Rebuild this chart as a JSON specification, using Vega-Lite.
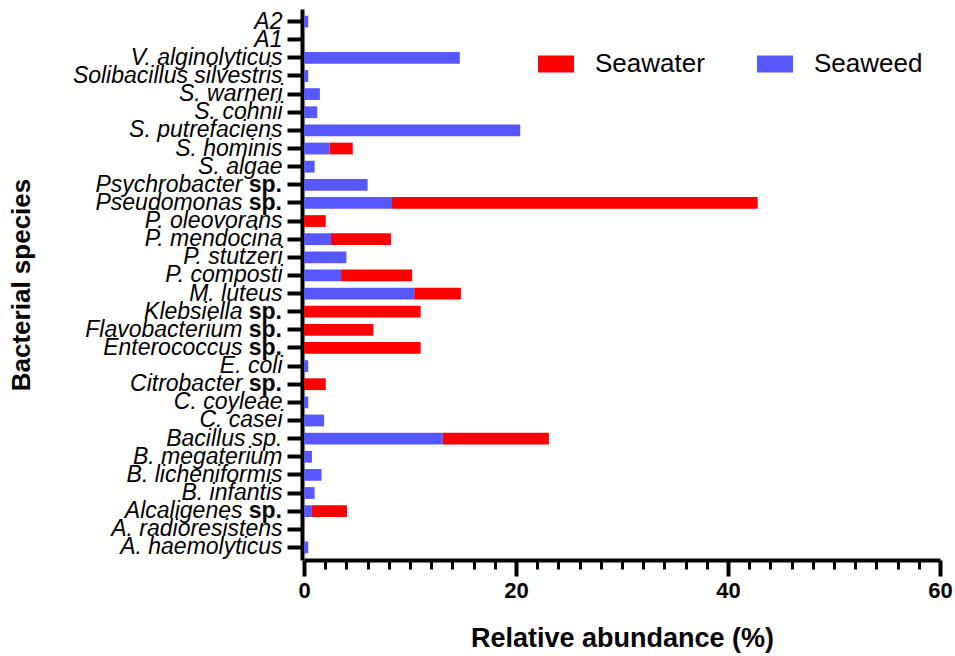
{
  "$schema": "https://vega.github.io/schema/vega-lite/v6.json",
  "autosize": "none",
  "padding": {"left": 304, "top": 9, "right": 15, "bottom": 96},
  "width": 636,
  "height": 551,
  "config": {"view": {"stroke": null}, "font": "Liberation Sans"},
  "data": {"values": [
    {"species": "A2", "source": "Seaweed", "value": 0.4},
    {"species": "A1", "source": "Seaweed", "value": 0},
    {"species": "V. alginolyticus", "source": "Seaweed", "value": 14.7},
    {"species": "Solibacillus silvestris", "source": "Seaweed", "value": 0.4},
    {"species": "S. warneri", "source": "Seaweed", "value": 1.5},
    {"species": "S. cohnii", "source": "Seaweed", "value": 1.25},
    {"species": "S. putrefaciens", "source": "Seaweed", "value": 20.4},
    {"species": "S. hominis", "source": "Seaweed", "value": 2.4},
    {"species": "S. hominis", "source": "Seawater", "value": 2.2},
    {"species": "S. algae", "source": "Seaweed", "value": 1.0},
    {"species": "Psychrobacter sp.", "source": "Seaweed", "value": 6.0},
    {"species": "Psychrobacter sp.", "source": "Seawater", "value": 0},
    {"species": "Pseudomonas sp.", "source": "Seaweed", "value": 8.3},
    {"species": "Pseudomonas sp.", "source": "Seawater", "value": 34.5},
    {"species": "P. oleovorans", "source": "Seawater", "value": 2.05},
    {"species": "P. mendocina", "source": "Seaweed", "value": 2.55},
    {"species": "P. mendocina", "source": "Seawater", "value": 5.65},
    {"species": "P. stutzeri", "source": "Seaweed", "value": 4.0},
    {"species": "P. composti", "source": "Seaweed", "value": 3.5},
    {"species": "P. composti", "source": "Seawater", "value": 6.7},
    {"species": "M. luteus", "source": "Seaweed", "value": 10.4},
    {"species": "M. luteus", "source": "Seawater", "value": 4.4},
    {"species": "Klebsiella sp.", "source": "Seawater", "value": 11.0},
    {"species": "Flavobacterium sp.", "source": "Seawater", "value": 6.55},
    {"species": "Enterococcus sp.", "source": "Seawater", "value": 11.0},
    {"species": "E. coli", "source": "Seaweed", "value": 0.4},
    {"species": "Citrobacter sp.", "source": "Seawater", "value": 2.05},
    {"species": "C. coyleae", "source": "Seaweed", "value": 0.4},
    {"species": "C. casei", "source": "Seaweed", "value": 1.9},
    {"species": "Bacillus sp.", "source": "Seaweed", "value": 13.1},
    {"species": "Bacillus sp.", "source": "Seawater", "value": 10.0},
    {"species": "B. megaterium", "source": "Seaweed", "value": 0.75},
    {"species": "B. licheniformis", "source": "Seaweed", "value": 1.65},
    {"species": "B. infantis", "source": "Seaweed", "value": 1.0},
    {"species": "Alcaligenes sp.", "source": "Seaweed", "value": 0.75},
    {"species": "Alcaligenes sp.", "source": "Seawater", "value": 3.3},
    {"species": "A. radioresistens", "source": "Seaweed", "value": 0},
    {"species": "A. haemolyticus", "source": "Seaweed", "value": 0.4}
  ]},
  "encoding": {
    "y": {
      "field": "species",
      "type": "nominal",
      "sort": ["A2", "A1", "V. alginolyticus", "Solibacillus silvestris", "S. warneri", "S. cohnii", "S. putrefaciens", "S. hominis", "S. algae", "Psychrobacter sp.", "Pseudomonas sp.", "P. oleovorans", "P. mendocina", "P. stutzeri", "P. composti", "M. luteus", "Klebsiella sp.", "Flavobacterium sp.", "Enterococcus sp.", "E. coli", "Citrobacter sp.", "C. coyleae", "C. casei", "Bacillus sp.", "B. megaterium", "B. licheniformis", "B. infantis", "Alcaligenes sp.", "A. radioresistens", "A. haemolyticus"],
      "scale": {"paddingInner": 0.35, "paddingOuter": 0.37},
      "axis": {
        "title": "Bacterial species",
        "titleFont": "Liberation Sans",
        "titleFontSize": 26,
        "titleFontWeight": "bold",
        "titleColor": "black",
        "titleX": -273,
        "titleY": 275.5,
        "titleBaseline": "alphabetic",
        "titleAngle": -90,
        "titleAlign": "center",
        "offset": 2,
        "domainColor": "black",
        "domainWidth": 4,
        "tickColor": "black",
        "tickWidth": 4,
        "tickSize": 15,
        "labelFont": "Liberation Sans",
        "labelFontSize": 23,
        "labelFontStyle": "italic",
        "labelColor": "black",
        "labelLimit": 400,
        "labelExpr": "indexof(['Psychrobacter sp.','Pseudomonas sp.','Klebsiella sp.','Flavobacterium sp.','Enterococcus sp.','Citrobacter sp.','Alcaligenes sp.'], datum.value) >= 0 ? replace(datum.value, ' sp.', '') : datum.label",
        "labelPadding": {"condition": {"test": "indexof(['Psychrobacter sp.','Pseudomonas sp.','Klebsiella sp.','Flavobacterium sp.','Enterococcus sp.','Citrobacter sp.','Alcaligenes sp.'], datum.value) >= 0", "value": 45}, "value": 5},
        "grid": false
      }
    }
  },
  "layer": [
    {
      "mark": {"type": "bar"},
      "encoding": {
        "x": {
          "field": "value",
          "type": "quantitative",
          "stack": "zero",
          "scale": {"domain": [0, 60], "nice": false},
          "axis": {
            "orient": "bottom",
            "values": [0, 20, 40, 60],
            "tickSize": 16,
            "tickWidth": 4,
            "tickColor": "black",
            "domainColor": "black",
            "domainWidth": 4,
            "labelFont": "Liberation Sans",
            "labelFontWeight": "bold",
            "labelFontSize": 22,
            "labelColor": "black",
            "labelPadding": 4,
            "labelFlush": false,
            "grid": false,
            "title": "Relative abundance (%)",
            "titleFont": "Liberation Sans",
            "titleFontSize": 27,
            "titleFontWeight": "bold",
            "titleColor": "black",
            "titleY": 86,
            "titleBaseline": "alphabetic"
          }
        },
        "color": {
          "field": "source",
          "type": "nominal",
          "scale": {"domain": ["Seawater", "Seaweed"], "range": ["#FF0000", "#5757FF"]},
          "legend": {
            "title": null,
            "orient": "none",
            "legendX": 234,
            "legendY": 37,
            "direction": "horizontal",
            "symbolType": "M-1,-0.47H1V0.47H-1Z",
            "symbolSize": 1296,
            "symbolStrokeWidth": 0,
            "symbolOpacity": 1,
            "labelFont": "Liberation Sans",
            "labelFontSize": 26,
            "labelColor": "black",
            "labelOffset": 21,
            "columnPadding": 52,
            "padding": 0
          }
        },
        "order": {"field": "source", "sort": "descending"}
      }
    },
    {
      "transform": [
        {"filter": {"and": [
          {"field": "species", "oneOf": ["Psychrobacter sp.", "Pseudomonas sp.", "Klebsiella sp.", "Flavobacterium sp.", "Enterococcus sp.", "Citrobacter sp.", "Alcaligenes sp."]},
          {"field": "source", "equal": "Seawater"}
        ]}}
      ],
      "mark": {"type": "text", "text": "sp.", "align": "right", "baseline": "middle", "dx": -22, "font": "Liberation Sans", "fontWeight": "bold", "fontSize": 23, "color": "black"},
      "encoding": {
        "x": {
          "datum": 0,
          "type": "quantitative",
          "axis": {
            "orient": "bottom",
            "values": [2, 4, 6, 8, 10, 12, 14, 16, 18, 22, 24, 26, 28, 30, 32, 34, 36, 38, 42, 44, 46, 48, 50, 52, 54, 56, 58],
            "tickSize": 9,
            "tickWidth": 3,
            "tickColor": "black",
            "domain": false,
            "labels": false,
            "grid": false,
            "title": null
          }
        }
      }
    }
  ],
  "resolve": {"axis": {"x": "independent"}}
}
